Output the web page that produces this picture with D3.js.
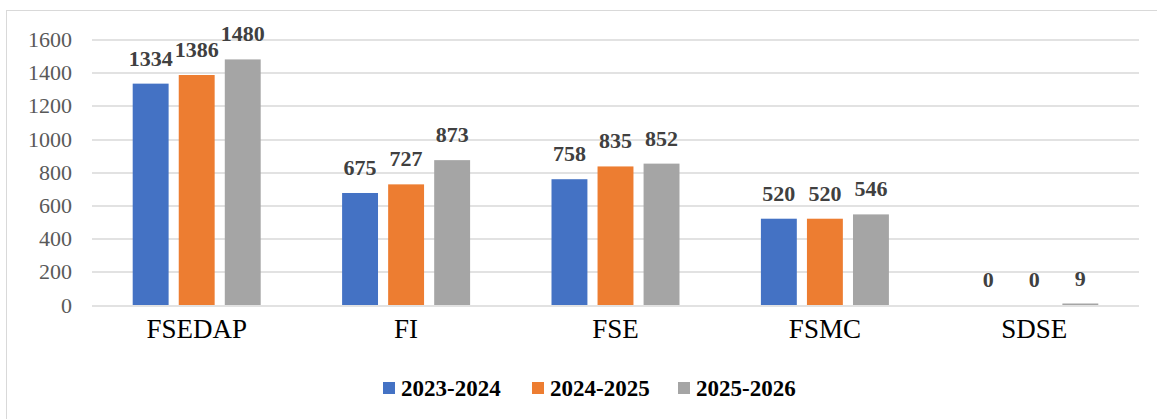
<!DOCTYPE html>
<html>
<head>
<meta charset="utf-8">
<script src="https://cdn.jsdelivr.net/npm/d3@7"></script>
<style>
  body { margin: 0; background: #fff; }
  svg { display: block; }
</style>
</head>
<body>
<div id="chart"></div>
<script>
const categories = ['FSEDAP', 'FI', 'FSE', 'FSMC', 'SDSE'];
const seriesNames = ['2023-2024', '2024-2025', '2025-2026'];
const values2023 = [1334, 675, 758, 520, 0];
const values2024 = [1386, 727, 835, 520, 0];
const values2025 = [1480, 873, 852, 546, 9];
const yTicks = [0, 200, 400, 600, 800, 1000, 1200, 1400, 1600];
const colors = ['#4472c4', '#ed7d31', '#a5a5a5'];

const allSeries = [values2023, values2024, values2025];
const serif = 'Liberation Serif, Tinos, Times New Roman, Times, DejaVu Serif, FreeSerif, serif';

const W = 1157, H = 419;
const margin = {top: 39.5, right: 18, bottom: 114, left: 92};
const width = W - margin.left - margin.right;
const height = H - margin.top - margin.bottom;

const svg = d3.select('#chart').append('svg')
  .attr('width', W)
  .attr('height', H)
  .attr('font-family', serif);

// outer frame
svg.append('rect')
  .attr('x', 6.5).attr('y', 10.5)
  .attr('width', W + 10).attr('height', H + 10)
  .attr('fill', 'none')
  .attr('stroke', '#d9d9d9');

const g = svg.append('g')
  .attr('transform', `translate(${margin.left}, ${margin.top})`);

const x0 = d3.scaleBand().domain(categories).range([0, width]);
const x1 = d3.scaleBand().domain(seriesNames)
  .range([x0.bandwidth() / 2 - 64, x0.bandwidth() / 2 + 64])
  .paddingInner(0.22);
const y = d3.scaleLinear().domain([0, 1600]).range([height, 0]);

// grid
g.selectAll('.grid')
  .data(yTicks)
  .join('line')
    .attr('x1', 0).attr('x2', width)
    .attr('y1', d => Math.round(y(d)) + 0.5)
    .attr('y2', d => Math.round(y(d)) + 0.5)
    .attr('stroke', '#d9d9d9')
    .attr('stroke-width', 1.3);

// y axis labels
const yAxis = g.append('g')
  .call(d3.axisLeft(y).tickValues(yTicks).tickFormat(d3.format('d')).tickSize(0).tickPadding(20));
yAxis.select('.domain').remove();
yAxis.attr('font-family', serif).attr('font-size', 22);
yAxis.selectAll('text')
  .attr('fill', '#595959');

// x axis labels
const xAxis = g.append('g')
  .attr('transform', `translate(0, ${height})`)
  .call(d3.axisBottom(x0).tickSize(0).tickPadding(14));
xAxis.select('.domain').remove();
xAxis.attr('font-family', serif).attr('font-size', 27);
xAxis.selectAll('text')
  .attr('fill', '#000');

const rows = categories.map((c, i) => ({
  cat: c,
  vals: seriesNames.map((s, j) => ({series: s, value: allSeries[j][i], color: colors[j]}))
}));

const groups = g.selectAll('.grp')
  .data(rows)
  .join('g')
    .attr('transform', d => `translate(${x0(d.cat)}, 0)`);

groups.selectAll('rect')
  .data(d => d.vals)
  .join('rect')
    .attr('x', d => x1(d.series))
    .attr('y', d => y(d.value))
    .attr('width', x1.bandwidth())
    .attr('height', d => height - y(d.value))
    .attr('fill', d => d.color);

groups.selectAll('.lbl')
  .data(d => d.vals)
  .join('text')
    .attr('class', 'lbl')
    .attr('x', d => x1(d.series) + x1.bandwidth() / 2)
    .attr('y', d => y(d.value) - 18)
    .attr('text-anchor', 'middle')
    .attr('font-weight', 'bold')
    .attr('font-size', 22)
    .attr('fill', '#404040')
    .text(d => d.value);

// legend
const legendX = [383, 532, 678];
const legend = svg.append('g');
const items = legend.selectAll('g')
  .data(seriesNames)
  .join('g')
    .attr('transform', (d, i) => `translate(${legendX[i]}, 388)`);
items.append('rect')
  .attr('x', 0).attr('y', -6)
  .attr('width', 12).attr('height', 12)
  .attr('fill', (d, i) => colors[i]);
items.append('text')
  .attr('x', 18).attr('y', 8)
  .attr('font-weight', 'bold')
  .attr('font-size', 23)
  .attr('fill', '#000')
  .text(d => d);
</script>
</body>
</html>
